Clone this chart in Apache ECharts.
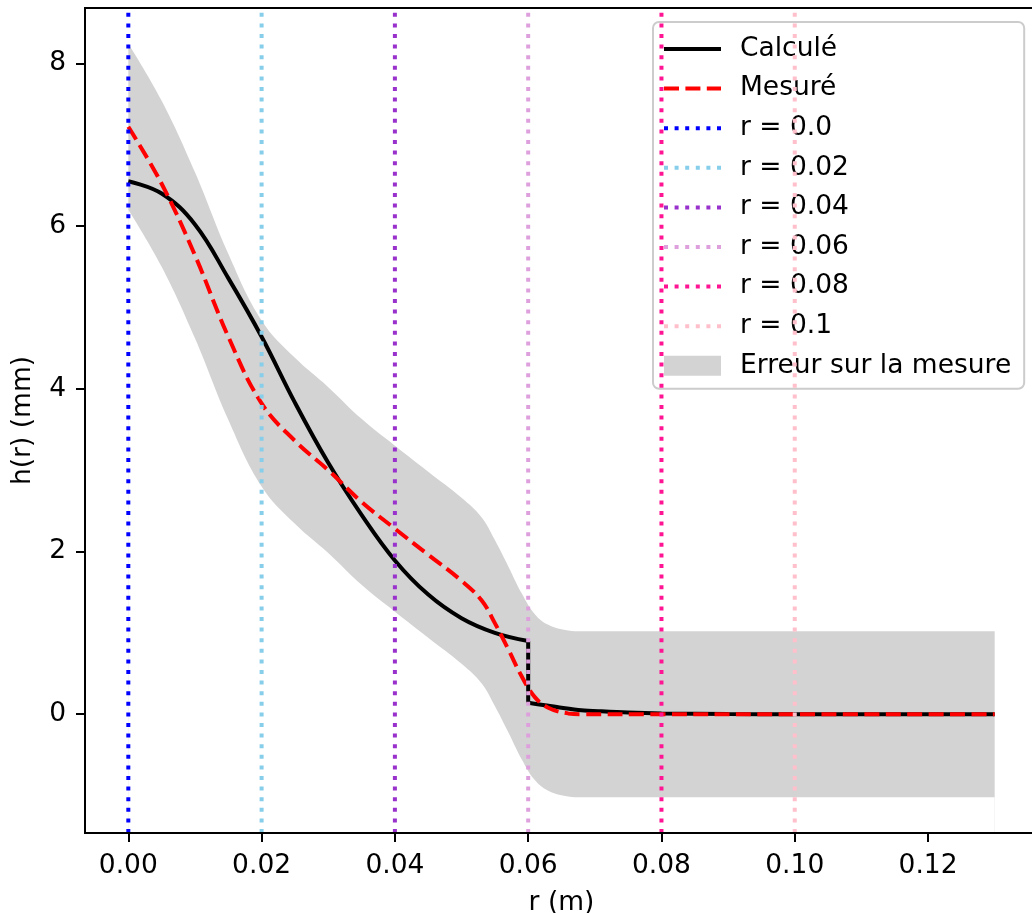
<!DOCTYPE html>
<html><head><meta charset="utf-8">
<script src="https://cdn.jsdelivr.net/npm/echarts@6/dist/echarts.min.js"></script>
<style>html,body{margin:0;padding:0;background:#fff}#c{width:1032px;height:913px}</style>
</head><body><div id="c"></div>
<script>
// ---- data ----
// Calculated profile, left of the step (r <= 0.06) and right of it
const calcR1 = [0, 0.005, 0.010, 0.015, 0.020, 0.025, 0.030, 0.035, 0.040, 0.045, 0.050, 0.055, 0.060];
const calcH1 = [6.55, 6.40, 6.02, 5.36, 4.64, 3.83, 3.09, 2.45, 1.89, 1.47, 1.18, 1.00, 0.90];
const calcR2 = [0.060, 0.0625, 0.065, 0.068, 0.071, 0.075, 0.080, 0.090, 0.100, 0.130];
const calcH2 = [0.14, 0.11, 0.08, 0.05, 0.035, 0.02, 0.01, 0.003, 0.0, 0.0];
// Measured profile
const measR = [0, 0.005, 0.010, 0.015, 0.020, 0.025, 0.030, 0.035, 0.040, 0.045, 0.050, 0.053, 0.055, 0.057, 0.059, 0.061, 0.063, 0.066, 0.068, 0.080, 0.100, 0.130];
const measH = [7.22, 6.52, 5.64, 4.64, 3.82, 3.36, 3.00, 2.61, 2.28, 1.96, 1.64, 1.40, 1.12, 0.80, 0.47, 0.21, 0.08, 0.01, 0.0, 0.0, 0.0, 0.0];
const measErr = 1.02; // constant measurement error (half-width of band)
const vlineR = [0, 0.02, 0.04, 0.06, 0.08, 0.1];
const vlineLabels = ['r = 0.0', 'r = 0.02', 'r = 0.04', 'r = 0.06', 'r = 0.08', 'r = 0.1'];
const vlineColors = ['#0000ff', '#87ceeb', '#9932cc', '#dda0dd', '#ff1493', '#ffc0cb'];
const xTicks = [0, 0.02, 0.04, 0.06, 0.08, 0.10, 0.12];
const yTicks = [0, 2, 4, 6, 8];
const X_MIN = -0.0065, X_MAX = 0.1365, Y_MIN = -1.46, Y_MAX = 8.68;

const FONT = 'DejaVu Sans';
const FS = 26.5;
const SMOOTH = 0.4;

const bandUpper = measR.map((r, i) => [r, measH[i] + measErr]);
const bandLower = measR.map((r, i) => [r, measH[i] - measErr]);

const series = [
  { // error band: grey area under upper bound ...
    name: 'Erreur sur la mesure', type: 'line', data: bandUpper,
    symbol: 'none', smooth: SMOOTH, color: '#d3d3d3',
    lineStyle: { width: 0, opacity: 0 },
    areaStyle: { color: '#d3d3d3', opacity: 1, origin: 'start' }, silent: true, z: 1
  },
  { // ... masked below lower bound with the white background
    name: '__lowerMask', type: 'line', data: bandLower,
    symbol: 'none', smooth: SMOOTH, color: '#ffffff',
    lineStyle: { width: 0, opacity: 0 },
    areaStyle: { color: '#ffffff', opacity: 1, origin: 'start' }, silent: true, z: 1
  },
  {
    name: 'Calculé', type: 'line', data: calcR1.map((r, i) => [r, calcH1[i]]),
    symbol: 'none', smooth: SMOOTH, color: '#000000',
    lineStyle: { color: '#000000', width: 4 }, z: 2
  },
  {
    name: 'Calculé', type: 'line', data: [[calcR1[calcR1.length - 1], calcH1[calcH1.length - 1]], [calcR2[0], calcH2[0]]],
    symbol: 'none', color: '#000000',
    lineStyle: { color: '#000000', width: 4 }, z: 2
  },
  {
    name: 'Calculé', type: 'line', data: calcR2.map((r, i) => [r, calcH2[i]]),
    symbol: 'none', smooth: 0.3, color: '#000000',
    lineStyle: { color: '#000000', width: 4 }, z: 2
  },
  {
    name: 'Mesuré', type: 'line', data: measR.map((r, i) => [r, measH[i]]),
    symbol: 'none', smooth: SMOOTH, color: '#ff0000',
    lineStyle: { color: '#ff0000', width: 4, type: [15, 6.4] }, z: 3
  }
];
vlineR.forEach((r, i) => {
  series.push({
    name: vlineLabels[i], type: 'line', data: [[r, Y_MIN], [r, Y_MAX]],
    symbol: 'none', color: vlineColors[i],
    lineStyle: { color: vlineColors[i], width: 4, type: [4, 6.6] }, z: 4
  });
});

const lineLegend = (n) => ({ name: n, itemStyle: { opacity: 0 } });

const chart = echarts.init(document.getElementById('c'), null, { renderer: 'canvas' });
chart.setOption({
  animation: false,
  backgroundColor: '#ffffff',
  textStyle: { fontFamily: FONT },
  grid: { left: 85, top: 8, right: -6, bottom: 80, containLabel: false, outerBoundsMode: 'none',
          show: true, borderColor: '#000', borderWidth: 2, backgroundColor: 'transparent' },
  legend: {
    left: 653, top: 22, orient: 'vertical',
    padding: [12, 13, 8, 9],
    itemWidth: 57, itemHeight: 20, itemGap: 9.6,
    backgroundColor: 'rgba(255,255,255,0.8)', borderColor: '#cccccc', borderWidth: 2, borderRadius: 6,
    textStyle: { fontFamily: FONT, fontSize: FS, color: '#000', lineHeight: 30, padding: [0, 0, 0, 14] },
    lineStyle: { width: 4 },
    data: ['Calculé', 'Mesuré'].concat(vlineLabels).map(lineLegend)
      .concat([{ name: 'Erreur sur la mesure', icon: 'rect', itemStyle: { color: '#d3d3d3', borderWidth: 0, opacity: 1 } }])
  },
  xAxis: {
    type: 'value', min: X_MIN, max: X_MAX, z: 10,
    name: 'r (m)', nameLocation: 'middle', nameGap: 57,
    nameTextStyle: { fontFamily: FONT, fontSize: FS, color: '#000' },
    axisLine: { show: true, onZero: false, lineStyle: { color: '#000', width: 2 } },
    axisTick: { show: true, length: 9, lineStyle: { color: '#000', width: 2 }, customValues: xTicks },
    axisLabel: { fontFamily: FONT, fontSize: FS, color: '#000', margin: 20, customValues: xTicks, formatter: v => v.toFixed(2) },
    splitLine: { show: false }
  },
  yAxis: {
    type: 'value', min: Y_MIN, max: Y_MAX, z: 10,
    name: 'h(r) (mm)', nameLocation: 'middle', nameGap: 48,
    nameTextStyle: { fontFamily: FONT, fontSize: FS, color: '#000' },
    axisLine: { show: true, onZero: false, lineStyle: { color: '#000', width: 2 } },
    axisTick: { show: true, length: 9, lineStyle: { color: '#000', width: 2 }, customValues: yTicks },
    axisLabel: { fontFamily: FONT, fontSize: FS, color: '#000', margin: 19, customValues: yTicks, formatter: v => String(v) },
    splitLine: { show: false }
  },
  series: series
});
</script></body></html>
